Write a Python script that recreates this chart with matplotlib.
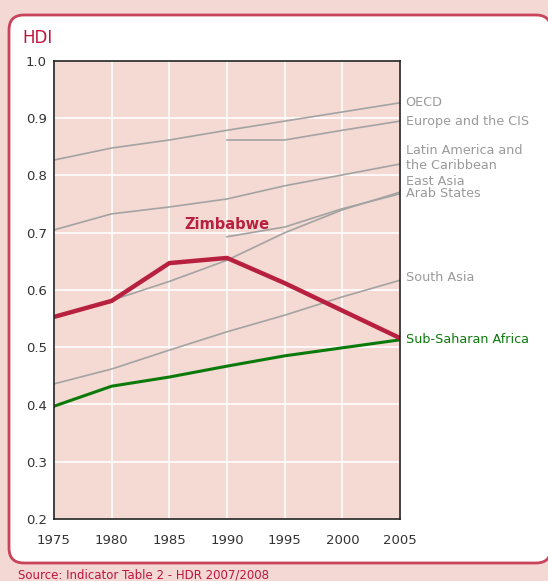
import numpy as np
import matplotlib.pyplot as plt
from matplotlib.patches import FancyBboxPatch

years = [1975, 1980, 1985, 1990, 1995, 2000, 2005]

oecd = [0.827, 0.848, 0.862, 0.879, 0.895, 0.911, 0.927]
europe_cis = [0.862, 0.862, 0.879, 0.895]
latin_am = [0.705, 0.733, 0.745, 0.759, 0.782, 0.801, 0.820]
east_asia = [0.552, 0.582, 0.615, 0.652, 0.700, 0.740, 0.771]
arab = [0.693, 0.710, 0.742, 0.768]
south_asia = [0.436, 0.462, 0.495, 0.527, 0.556, 0.588, 0.617]
ssa = [0.397, 0.432, 0.448, 0.467, 0.485, 0.499, 0.513]
zimbabwe = [0.553, 0.581, 0.647, 0.656, 0.612, 0.564, 0.516]

gray_labels = [("OECD", 0.928), ("Europe and the CIS", 0.895),
               ("Latin America and\nthe Caribbean", 0.831),
               ("East Asia", 0.789), ("Arab States", 0.768),
               ("South Asia", 0.621)]

red = '#c0143c'
fig = plt.figure(figsize=(5.48, 5.81), dpi=100)
fig.patch.set_facecolor('#f3d8d3')

# white rounded panel (behind the axes), sized in inches
panel = FancyBboxPatch((0.09, 0.18), 5.42, 5.48,
                       boxstyle="round,pad=0,rounding_size=0.15",
                       transform=fig.dpi_scale_trans, facecolor='white',
                       edgecolor='#c9435a', linewidth=2, zorder=-10)
fig.add_artist(panel)

fig.text(22/548, 1-38/581, "HDI", color=red, fontsize=12, va='center')
fig.text(18/548, 1-575/581, "Source: Indicator Table 2 - HDR 2007/2008",
         color=red, fontsize=8.5, va='center')

ax = fig.add_axes([54/548, 1-519/581, 346/548, 458/581])
ax.set_facecolor('#f5d9d3')
ax.set_xlim(1975, 2005)
ax.set_ylim(0.2, 1.0)
ax.set_xticks(years)
ax.set_yticks(np.arange(0.2, 1.01, 0.1))
ax.set_yticklabels(['%.1f' % v for v in np.arange(0.2, 1.01, 0.1)])
ax.grid(True, color='white', linewidth=1.2)
ax.set_axisbelow(True)
ax.tick_params(length=0, labelsize=9.5, colors='#333333', pad=5)
ax.tick_params(axis='x', pad=11)
for s in ax.spines.values():
    s.set_color('#222222')
    s.set_linewidth(1.2)

gc = '#a3a3a3'
ax.plot(years, oecd, color=gc, lw=1.2)
ax.plot(years[3:], europe_cis, color=gc, lw=1.2)
ax.plot(years, latin_am, color=gc, lw=1.2)
ax.plot(years, east_asia, color=gc, lw=1.2)
ax.plot(years[3:], arab, color=gc, lw=1.2)
ax.plot(years, south_asia, color=gc, lw=1.2)
ax.plot(years, ssa, color='#0b7a0b', lw=2.2)
ax.plot(years, zimbabwe, color='#b8203f', lw=3.2, solid_capstyle='butt')

for txt, y in gray_labels:
    ax.annotate(txt, xy=(2005, y), xytext=(4, 0), textcoords='offset points',
                color='#9a9a9a', fontsize=9.2, va='center', ha='left',
                annotation_clip=False, linespacing=1.2)
ax.annotate("Sub-Saharan Africa", xy=(2005, ssa[-1]), xytext=(4, 0),
            textcoords='offset points', color='#0b7a0b', fontsize=9.2,
            va='center', ha='left', annotation_clip=False)
ax.text(1990.0, 0.714, "Zimbabwe", color='#b8203f', fontsize=10.5,
        fontweight='bold', ha='center', va='center')

fig.savefig('out.png', dpi=100, facecolor=fig.get_facecolor())
